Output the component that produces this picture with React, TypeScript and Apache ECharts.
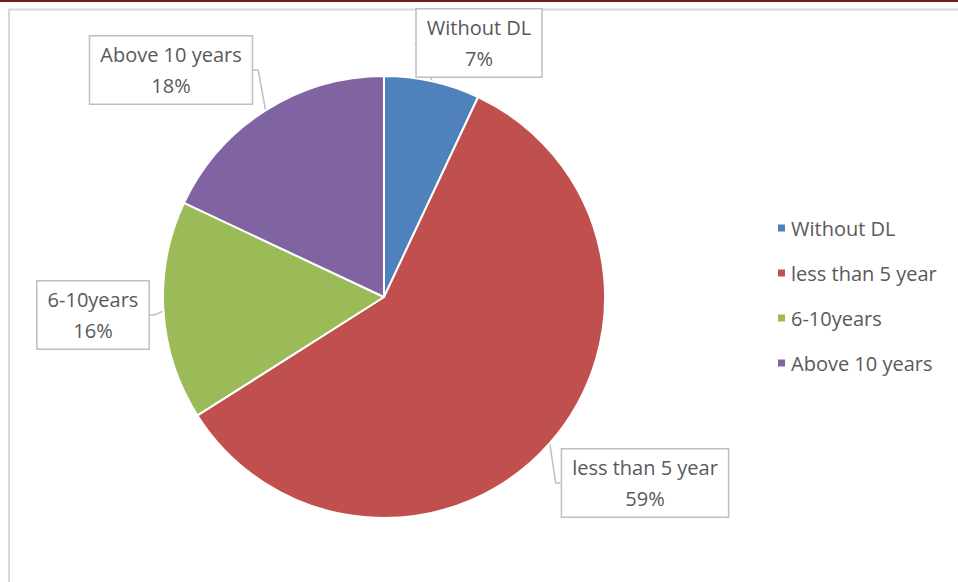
import React, { useEffect, useRef } from "react";
import * as echarts from "echarts";

const categories = ["Without DL", "less than 5 year", "6-10years", "Above 10 years"];
const values = [7, 59, 16, 18];
const colors = ["#4F81BD", "#C0504D", "#9BBB59", "#8064A2"];
const labelCenters = [
  [479, 43],
  [645, 483],
  [93, 315],
  [171, 70],
];

export default function App() {
  const ref = useRef<HTMLDivElement>(null);
  useEffect(() => {
    if (!ref.current) return;
    const chart = echarts.init(ref.current, undefined, { renderer: "svg" });
    const font = "'Open Sans', 'Noto Sans', sans-serif";
    chart.setOption({
      animation: false,
      backgroundColor: "#ffffff",
      graphic: [
        {
          type: "rect",
          shape: { x: 9, y: 9.5, width: 960, height: 600 },
          style: { fill: "none", stroke: "#D9D9D9", lineWidth: 2 },
          z: 0,
        },
        {
          type: "rect",
          shape: { x: 0, y: 0, width: 958, height: 2 },
          style: { fill: "#6E1E1E" },
        },
      ],
      legend: {
        orient: "vertical",
        left: 771,
        top: 213,
        itemWidth: 9,
        itemHeight: 9,
        itemGap: 25,
        icon: "rect",
        textStyle: { fontSize: 20, color: "#595959", fontFamily: font },
        data: categories,
      },
      series: [
        {
          type: "pie",
          center: [384, 297],
          radius: 221,
          startAngle: 90,
          clockwise: true,
          data: categories.map((name, i) => ({
            name,
            value: values[i],
            itemStyle: { color: colors[i] },
          })),
          itemStyle: { borderColor: "#ffffff", borderWidth: 2 },
          label: {
            show: true,
            position: "outside",
            formatter: "{b}\n{d}%",
            fontSize: 20,
            fontFamily: font,
            color: "#595959",
            lineHeight: 31,
            align: "center",
            verticalAlign: "middle",
            backgroundColor: "#ffffff",
            borderColor: "#BFBFBF",
            borderWidth: 1.5,
            padding: [3, 10, 2, 10],
          },
          labelLine: {
            show: true,
            length: 5,
            length2: 5,
            lineStyle: { color: "#BFBFBF", width: 1.5 },
          },
          labelLayout: (params: any) => {
            const c = labelCenters[params.dataIndex];
            return { x: c[0], y: c[1], align: "center", verticalAlign: "middle" };
          },
          emphasis: { disabled: true },
        },
      ],
    });
    return () => chart.dispose();
  }, []);
  return (
    <div
      ref={ref}
      style={{ position: "fixed", left: 0, top: 0, width: 958, height: 582 }}
    />
  );
}
